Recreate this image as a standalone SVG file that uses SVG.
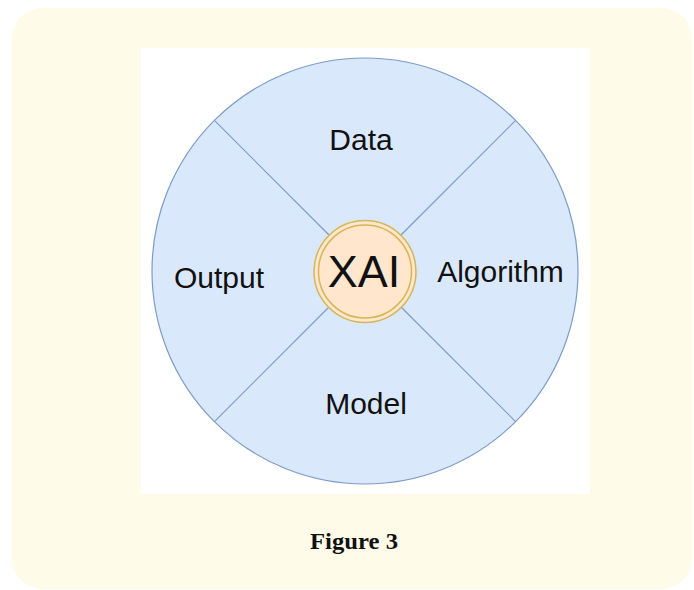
<svg xmlns="http://www.w3.org/2000/svg" width="694" height="590" viewBox="0 0 694 590">
<style>
.lbl{font-family:"Liberation Sans",Arial,sans-serif;font-size:30px;fill:#111;text-anchor:middle}
.div{stroke:#7b9bcb;stroke-width:1.2;fill:none}
</style>
<rect x="12" y="8" width="680" height="581" rx="30" ry="30" fill="#fffbe9"/>
<rect x="141" y="48" width="449" height="446" fill="#ffffff"/>
<g id="outer">
<circle cx="365" cy="271" r="213" fill="#dae8fc" stroke="#7b9bcb" stroke-width="1.2"/>
</g>
<g id="connectors">
<line class="div" x1="214.4" y1="120.4" x2="329" y2="235"/>
<line class="div" x1="515.6" y1="120.4" x2="401" y2="235"/>
<line class="div" x1="214.4" y1="421.6" x2="329" y2="307"/>
<line class="div" x1="515.6" y1="421.6" x2="401" y2="307"/>
</g>
<g id="data"><text class="lbl" x="361" y="150">Data</text></g>
<g id="algorithm"><text class="lbl" x="500.5" y="282">Algorithm</text></g>
<g id="model"><text class="lbl" x="366" y="413.5">Model</text></g>
<g id="output"><text class="lbl" x="219" y="287.5">Output</text></g>
<g id="xai">
<circle cx="365" cy="271.5" r="51" fill="#ffe6cc" stroke="#d6b656" stroke-width="1.5"/>
<circle cx="365" cy="271.5" r="46.5" fill="none" stroke="#d6b656" stroke-width="1.5"/>
<text x="364" y="287" font-family="Liberation Sans, Arial, sans-serif" font-size="45" fill="#111" text-anchor="middle">XAI</text>
</g>
<text x="354" y="549" font-family="Liberation Serif, Times New Roman, serif" font-weight="bold" font-size="23" fill="#111" text-anchor="middle" textLength="88" lengthAdjust="spacingAndGlyphs">Figure 3</text>
</svg>
